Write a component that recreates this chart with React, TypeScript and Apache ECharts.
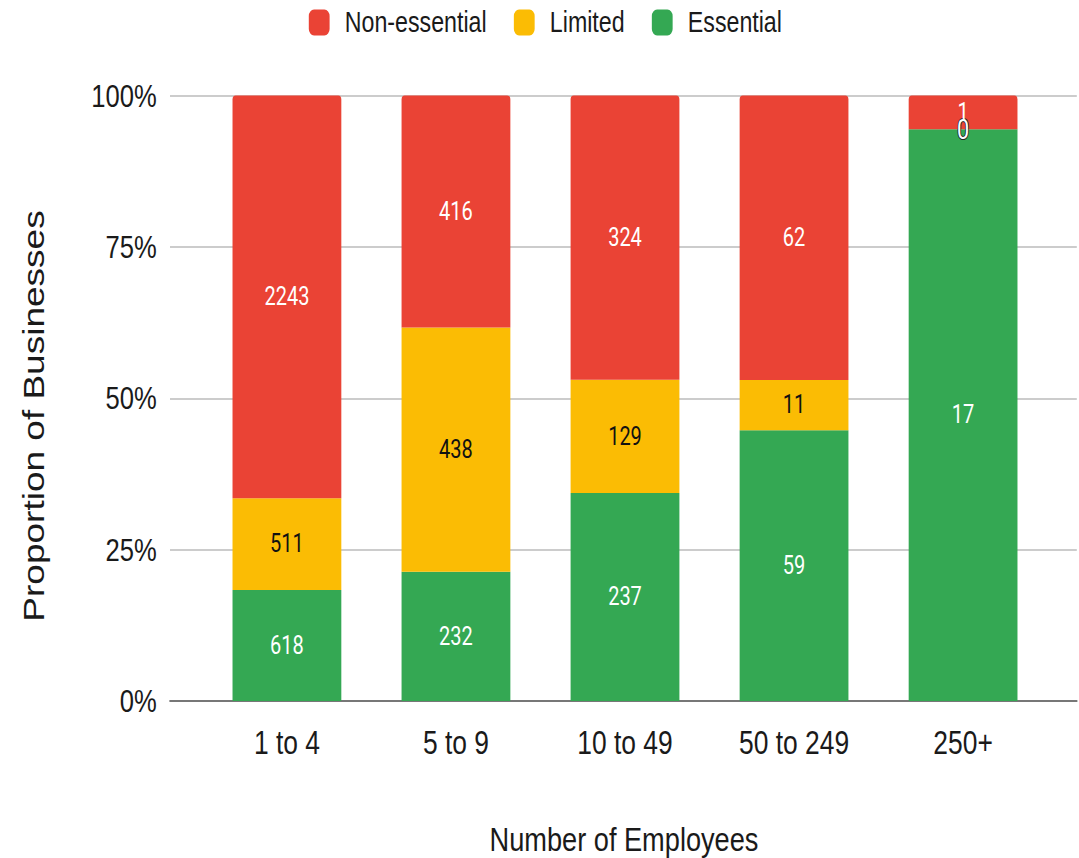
import React, { useEffect, useRef } from "react";
import * as echarts from "echarts";

const categories = ["1 to 4", "5 to 9", "10 to 49", "50 to 249", "250+"];
const essential = [618, 232, 237, 59, 17];
const limited = [511, 438, 129, 11, 0];
const nonEssential = [2243, 416, 324, 62, 1];
const yTicks = [0, 25, 50, 75, 100];

const SANS = '"Liberation Sans", Arial, sans-serif';
const ROBOTO = 'Roboto, "Liberation Sans", sans-serif';
// the reference is horizontally squeezed; the chart is drawn wider and squeezed by CSS
const SQUEEZE = 0.8;
const W = 1349;
const H = 858;

export default function App() {
  const ref = useRef<HTMLDivElement>(null);
  useEffect(() => {
    document.body.style.margin = "0";
    const chart = echarts.init(ref.current!, null, { renderer: "svg" });
    const totals = categories.map((_, i) => essential[i] + limited[i] + nonEssential[i]);
    const pct = (arr: number[]) => arr.map((v, i) => (v / totals[i]) * 100);
    const mk = (name: string, raw: number[], color: string, labelColor: string, top: boolean): any => ({
      name,
      type: "bar",
      stack: "total",
      xAxisIndex: 0,
      yAxisIndex: 0,
      barWidth: 136,
      data: pct(raw),
      itemStyle: { color, borderRadius: top ? [4, 4, 0, 0] : 0 },
      label: {
        show: true,
        position: "inside",
        fontFamily: ROBOTO,
        fontSize: 25,
        color: labelColor,
        formatter: (p: any) => String(raw[p.dataIndex]),
      },
      emphasis: { disabled: true },
    });
    const limitedSeries: any = mk("Limited", limited, "#FBBC04", "#111", false);
    limitedSeries.label.formatter = (p: any) =>
      limited[p.dataIndex] === 0 ? "{z|0}" : String(limited[p.dataIndex]);
    limitedSeries.label.rich = {
      z: { color: "#fff", textBorderColor: "#222", textBorderWidth: 2, fontSize: 27, fontFamily: ROBOTO },
    };
    chart.setOption({
      animation: false,
      legend: {
        data: ["Non-essential", "Limited", "Essential"],
        left: 381,
        top: 3,
        itemWidth: 26,
        itemHeight: 26,
        itemGap: 34,
        icon: "roundRect",
        selectedMode: false,
        textStyle: { fontFamily: SANS, fontSize: 29, color: "#1a1a1a", padding: [0, 0, 0, 14] },
      },
      grid: [
        { left: 253, right: 39.5, top: 95.5, bottom: 157 },
        { left: 212.5, right: 3, top: 95.5, bottom: 157 },
      ],
      xAxis: [
        {
          type: "category",
          gridIndex: 0,
          data: categories,
          axisLine: { show: false },
          axisTick: { show: false },
          axisLabel: { interval: 0, fontFamily: SANS, fontSize: 33, color: "#1a1a1a", margin: 25 },
        },
        {
          type: "value",
          gridIndex: 1,
          min: 0,
          max: 1,
          axisLine: { show: true, onZero: false, lineStyle: { color: "#777", width: 2 } },
          axisTick: { show: false },
          axisLabel: { show: false },
          splitLine: { show: false },
        },
      ],
      yAxis: [
        {
          type: "value",
          gridIndex: 0,
          min: 0,
          max: 100,
          interval: 25,
          axisLine: { show: false },
          axisTick: { show: false },
          splitLine: { show: false },
          axisLabel: {
            fontFamily: SANS,
            fontSize: 32,
            color: "#1a1a1a",
            margin: 57,
            formatter: (v: number) => (yTicks.includes(v) ? `${v}%` : ""),
          },
        },
        {
          type: "value",
          gridIndex: 1,
          min: 0,
          max: 100,
          interval: 25,
          axisLine: { show: false },
          axisTick: { show: false },
          axisLabel: { show: false },
          splitLine: { show: true, lineStyle: { color: "#cccccc", width: 2 } },
        },
      ],
      series: [
        mk("Essential", essential, "#34A853", "#fff", false),
        limitedSeries,
        mk("Non-essential", nonEssential, "#EA4335", "#fff", true),
      ],
      graphic: [
        {
          type: "text",
          x: 780,
          y: 839,
          style: {
            text: "Number of Employees",
            fontFamily: SANS,
            fontSize: 34,
            fill: "#1a1a1a",
            align: "center",
            verticalAlign: "middle",
          },
        },
        {
          type: "text",
          x: 42.5,
          y: 416,
          rotation: Math.PI / 2,
          style: {
            text: "Proportion of Businesses",
            fontFamily: SANS,
            fontSize: 37,
            fill: "#1a1a1a",
            align: "center",
            verticalAlign: "middle",
          },
        },
      ],
    });
    return () => chart.dispose();
  }, []);
  return (
    <div style={{ width: 1079, height: H, overflow: "hidden" }}>
      <div style={{ width: W, height: H, transform: `scaleX(${SQUEEZE})`, transformOrigin: "0 0" }}>
        <div ref={ref} style={{ width: W, height: H }} />
      </div>
    </div>
  );
}
